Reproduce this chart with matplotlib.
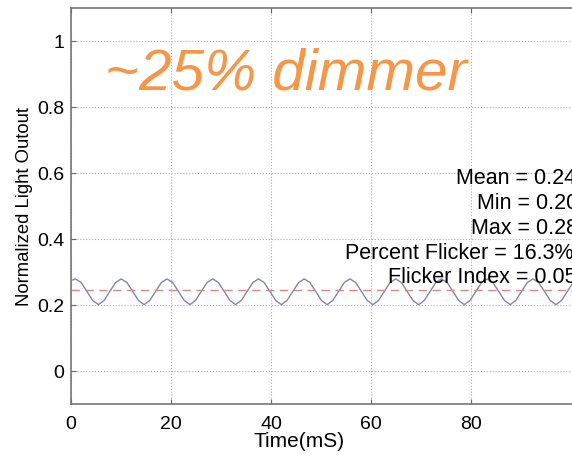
import matplotlib
matplotlib.use('Agg')
import matplotlib.pyplot as plt

# Light output samples (ms, normalized)
time_ms = [0.00,
           0.90, 2.04, 3.19, 4.33, 5.48, 6.62, 7.76, 8.91,
           10.05, 11.19, 12.34, 13.48, 14.63, 15.77, 16.91, 18.06,
           19.20, 20.34, 21.49, 22.63, 23.78, 24.92, 26.06, 27.21,
           28.35, 29.49, 30.64, 31.78, 32.93, 34.07, 35.21, 36.36,
           37.50, 38.64, 39.79, 40.93, 42.08, 43.22, 44.36, 45.51,
           46.65, 47.79, 48.94, 50.08, 51.23, 52.37, 53.51, 54.66,
           55.80, 56.94, 58.09, 59.23, 60.38, 61.52, 62.66, 63.81,
           64.95, 66.09, 67.24, 68.38, 69.53, 70.67, 71.81, 72.96,
           74.10, 75.24, 76.39, 77.53, 78.68, 79.82, 80.96, 82.11,
           83.25, 84.39, 85.54, 86.68, 87.83, 88.97, 90.11, 91.26,
           92.40, 93.54, 94.69, 95.83, 96.98, 98.12, 99.26, 100.41]
light = [0.274,
         0.279, 0.268, 0.241, 0.214, 0.201, 0.214, 0.241, 0.268,
         0.279, 0.268, 0.241, 0.214, 0.201, 0.214, 0.241, 0.268,
         0.279, 0.268, 0.241, 0.214, 0.201, 0.214, 0.241, 0.268,
         0.279, 0.268, 0.241, 0.214, 0.201, 0.214, 0.241, 0.268,
         0.279, 0.268, 0.241, 0.214, 0.201, 0.214, 0.241, 0.268,
         0.279, 0.268, 0.241, 0.214, 0.201, 0.214, 0.241, 0.268,
         0.279, 0.268, 0.241, 0.214, 0.201, 0.214, 0.241, 0.268,
         0.279, 0.268, 0.241, 0.214, 0.201, 0.214, 0.241, 0.268,
         0.279, 0.268, 0.241, 0.214, 0.201, 0.214, 0.241, 0.268,
         0.279, 0.268, 0.241, 0.214, 0.201, 0.214, 0.241, 0.268,
         0.279, 0.268, 0.241, 0.214, 0.201, 0.214, 0.241, 0.268]
mean_level = 0.245

# the stats block is cut by the right edge in the original
stat_lines = ['Mean = 0.24', 'Min = 0.20', 'Max = 0.28',
              'Percent Flicker = 16.3%', 'Flicker Index = 0.05']

x_ticks = [0, 20, 40, 60, 80]
y_ticks = [0, 0.2, 0.4, 0.6, 0.8, 1]
y_tick_labels = ['0', '0.2', '0.4', '0.6', '0.8', '1']

plt.rcParams['font.family'] = ['Liberation Sans', 'DejaVu Sans']

fig = plt.figure(figsize=(5.72, 4.56), dpi=100)
# axes run past the right edge of the picture, like the cropped original
ax = fig.add_axes([71/572, 51/456, 550/572, 396/456])
ax.plot(time_ms, light, color='#8484b4', lw=1.0, zorder=3)
ax.axhline(mean_level, color='#d58a80', lw=1.0, ls=(0, (6, 4)), zorder=3)

ax.set_xlim(0, 110)
ax.set_ylim(-0.1, 1.1)
ax.set_xticks(x_ticks)
ax.set_yticks(y_ticks)
ax.set_yticklabels(y_tick_labels)
ax.grid(True, ls=':', color='#b0b0b0', lw=0.8)
ax.tick_params(direction='in', top=True, right=True, labelsize=14, color='#666666')
ax.tick_params(axis='x', pad=8)
ax.tick_params(axis='y', pad=5)
for s in ax.spines.values():
    s.set_color('#777777'); s.set_linewidth(1.2)

ax.set_xlabel('Time(mS)', fontsize=15)
ax.xaxis.set_label_coords(45.6/110, -0.068)
ax.set_ylabel('Normalized Light Outout', fontsize=13.3)
ax.yaxis.set_label_coords(-38/550, 0.5)

# left edge and baseline of each stats line, in pixels
line_x = [456, 477, 471, 345, 388]
line_base = [184, 209, 234, 259, 283]
for txt, lx, by in zip(stat_lines, line_x, line_base):
    fig.text(lx/572, 1 - by/456, txt, ha='left', va='baseline', fontsize=15.5)

fig.text(105/572, 1 - 89/456, '~25% dimmer', ha='left', va='baseline',
         fontsize=42, style='italic', color='#f79646')

fig.savefig('out.png', dpi=100)
